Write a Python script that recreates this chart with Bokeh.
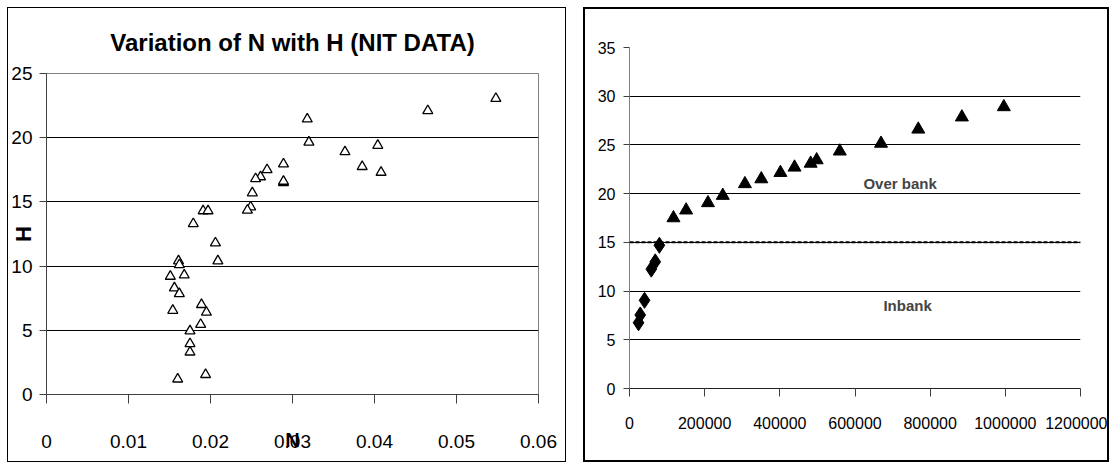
from bokeh.plotting import figure
from bokeh.layouts import row, column
from bokeh.models import Label, Span, FixedTicker, PrintfTickFormatter, Range1d
from bokeh.embed import file_html
from bokeh.resources import INLINE

# ---- Left chart data (NIT data) ----
n_vals = [0.0318, 0.0320, 0.0364, 0.0289, 0.0269, 0.0261, 0.0255, 0.0289, 0.0289,
          0.0251, 0.0249, 0.0245, 0.0191, 0.0197, 0.0179, 0.0206, 0.0209, 0.0161,
          0.0162, 0.0168, 0.0151, 0.0156, 0.0162, 0.0154, 0.0189, 0.0195, 0.0188,
          0.0175, 0.0175, 0.0175, 0.0160, 0.0194, 0.0404, 0.0385, 0.0408, 0.0465, 0.0548]
h_vals = [21.45, 19.65, 18.9, 17.95, 17.5, 16.95, 16.8, 16.5, 16.6,
          15.7, 14.6, 14.35, 14.3, 14.3, 13.3, 11.8, 10.4, 10.4,
          10.1, 9.3, 9.2, 8.3, 7.85, 6.55, 7.0, 6.4, 5.45,
          4.95, 3.95, 3.3, 1.2, 1.55, 19.4, 17.75, 17.3, 22.1, 23.05]
left_xticks = [0, 0.01, 0.02, 0.03, 0.04, 0.05, 0.06]
left_xlabels = ["0", "0.01", "0.02", "0.03", "0.04", "0.05", "0.06"]
left_yticks = [0, 5, 10, 15, 20, 25]

# ---- Right chart data ----
q_in = [24000, 28500, 40000, 58000, 68500, 79500]
h_in = [6.75, 7.55, 9.05, 12.25, 13.0, 14.7]
q_over = [117000, 150700, 208800, 248200, 307100, 350700, 401600, 439100,
          482000, 498000, 559600, 669300, 768400, 884400, 996000]
h_over = [17.5, 18.3, 19.05, 19.8, 21.0, 21.5, 22.15, 22.7,
          23.1, 23.45, 24.35, 25.15, 26.6, 27.85, 28.9]
right_xticks = [0, 200000, 400000, 600000, 800000, 1000000, 1200000]
right_yticks = [0, 5, 10, 15, 20, 25, 30, 35]
bankfull = 15

FONT = "Liberation Sans"

# ================= Left figure =================
p1 = figure(output_backend="svg", toolbar_location=None,
            frame_width=490, frame_height=319,
            min_border_left=37, min_border_right=29, min_border_top=65, min_border_bottom=69,
            x_range=Range1d(0, 0.06), y_range=Range1d(0, 25))
p1.styles = {"border": "1px solid black"}
p1.outline_line_color = "#808080"
p1.outline_line_width = 1
p1.xgrid.visible = False
p1.ygrid.ticker = FixedTicker(ticks=[5, 10, 15, 20])
p1.ygrid.grid_line_color = "black"
p1.ygrid.grid_line_width = 1
p1.xaxis.ticker = FixedTicker(ticks=left_xticks)
p1.xaxis.major_label_overrides = {t: l for t, l in zip(left_xticks, left_xlabels)}
p1.yaxis.ticker = FixedTicker(ticks=left_yticks)
for ax in (p1.xaxis[0], p1.yaxis[0]):
    ax.major_label_text_font = FONT
    ax.major_label_text_font_size = "19px"
    ax.major_label_text_color = "black"
    ax.minor_tick_line_color = None
    ax.major_tick_in = 0
    ax.axis_line_color = "#404040"
    ax.major_tick_line_color = "#404040"
    ax.axis_label_text_font = FONT
    ax.axis_label_text_font_style = "bold"
    ax.axis_label_text_color = "black"
p1.xaxis.major_tick_out = 9
p1.xaxis.major_label_standoff = 31
p1.yaxis.major_tick_out = 7
p1.yaxis.major_label_standoff = 7
p1.xaxis.axis_label = "N"
p1.xaxis.axis_label_text_font_size = "20px"
p1.xaxis.axis_label_standoff = -22
p1.yaxis.axis_label = "H"
p1.yaxis.axis_label_text_font_size = "22px"
p1.yaxis.axis_label_standoff = -28

p1.title.text = "Variation of N with H (NIT DATA)"
p1.title.align = "center"
p1.title.vertical_align = "bottom"
p1.title.offset = 12
p1.title.text_font = FONT
p1.title.text_font_size = "24px"
p1.title.text_font_style = "bold"
p1.title.text_color = "black"
p1.title.standoff = 35

p1.scatter(n_vals, h_vals, marker="triangle", size=10, fill_color="white",
           line_color="black", line_width=1.3)

# ================= Right figure =================
p2 = figure(output_backend="svg", toolbar_location=None,
            frame_width=447, frame_height=337,
            min_border_left=44, min_border_right=31, min_border_top=38, min_border_bottom=76,
            x_range=Range1d(0, 1200000), y_range=Range1d(0, 35))
p2.styles = {"border": "2px solid black"}
p2.outline_line_color = None
p2.xgrid.visible = False
p2.ygrid.ticker = FixedTicker(ticks=right_yticks[1:])
p2.ygrid.grid_line_color = "black"
p2.ygrid.grid_line_width = 1
p2.xaxis.ticker = FixedTicker(ticks=right_xticks)
p2.xaxis.formatter = PrintfTickFormatter(format="%d")
p2.yaxis.ticker = FixedTicker(ticks=right_yticks)
for ax in (p2.xaxis[0], p2.yaxis[0]):
    ax.major_label_text_font = FONT
    ax.major_label_text_font_size = "16px"
    ax.major_label_text_color = "black"
    ax.minor_tick_line_color = None
    ax.major_tick_in = 0
    ax.major_tick_line_color = "#404040"
p2.xaxis.axis_line_color = "#202020"
p2.yaxis.axis_line_color = "#808080"
p2.xaxis.major_tick_out = 8
p2.xaxis.major_label_standoff = 20
p2.yaxis.major_tick_out = 6
p2.yaxis.major_label_standoff = 8

p2.add_layout(Span(location=bankfull, dimension="width", line_color="black",
                   line_width=2, line_dash="4 2"))
p2.scatter(q_in, h_in, marker="diamond", size=16, fill_color="black", line_color="black")
p2.scatter(q_over, h_over, marker="triangle", size=13, fill_color="black", line_color="black")

p2.add_layout(Label(x=720000, y=21.0, text="Over bank", text_font=FONT,
                    text_font_size="15px", text_font_style="bold",
                    text_align="center", text_baseline="middle"))
p2.add_layout(Label(x=740000, y=8.5, text="Inbank", text_font=FONT,
                    text_font_size="15px", text_font_style="bold",
                    text_align="center", text_baseline="middle"))

layout = row(column(p1), column(p2), spacing=17, margin=(7, 0, 0, 7))
open("out.html", "w").write(file_html(layout, INLINE))
